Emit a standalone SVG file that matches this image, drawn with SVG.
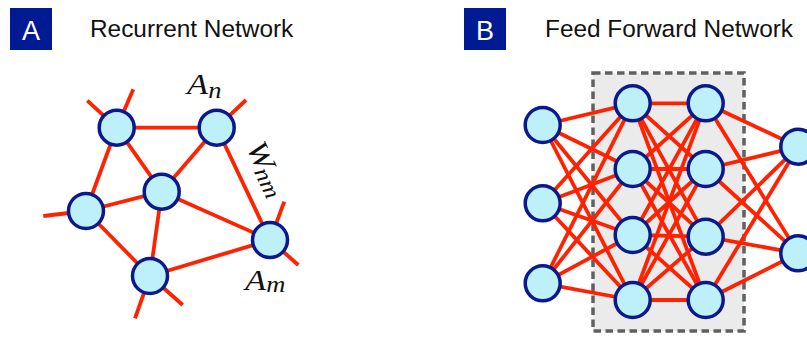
<svg xmlns="http://www.w3.org/2000/svg" width="807" height="337" viewBox="0 0 807 337">
<style>
.lbl{fill:#001a94}
.lt{font-family:"Liberation Sans",Arial,sans-serif;font-size:27px;fill:#fff;text-anchor:middle}
.ttl{font-family:"Liberation Sans",Arial,sans-serif;font-size:24.4px;fill:#111}
.math{font-family:"Liberation Serif","Times New Roman",serif;font-style:italic;font-size:30px;fill:#111}
.sub{font-size:23px}
.e{stroke:#ff2200;stroke-width:3.8;fill:none;stroke-linecap:butt}
.n{fill:#bdf0f8;stroke:#0a1a8c;stroke-width:3.5}
</style>
<rect x="0" y="0" width="807" height="337" fill="#fff"/>
<!-- Panel A header -->
<g id="labelA"><rect class="lbl" x="10" y="8" width="42" height="42"/><text class="lt" x="31" y="39.5">A</text></g>
<text class="ttl" x="90" y="37">Recurrent Network</text>
<!-- Panel B header -->
<g id="labelB"><rect class="lbl" x="464" y="8" width="42" height="42"/><text class="lt" x="485" y="39.5">B</text></g>
<text class="ttl" x="545" y="37">Feed Forward Network</text>
<!-- Hidden layer box -->
<rect id="hiddenBox" x="593" y="73" width="151" height="258" fill="#ebebeb" stroke="#606060" stroke-width="3.5" stroke-dasharray="7.5 4.5"/>
<!-- Connectors -->
<g id="connectors">
<g id="recurrent-edges">
<line class="e" x1="116.7" y1="127.7" x2="216.7" y2="127.7"/>
<line class="e" x1="116.7" y1="127.7" x2="161.7" y2="191.7"/>
<line class="e" x1="116.7" y1="127.7" x2="86" y2="211"/>
<line class="e" x1="216.7" y1="127.7" x2="161.7" y2="191.7"/>
<line class="e" x1="216.7" y1="127.7" x2="270" y2="240"/>
<line class="e" x1="161.7" y1="191.7" x2="86" y2="211"/>
<line class="e" x1="161.7" y1="191.7" x2="150" y2="276"/>
<line class="e" x1="161.7" y1="191.7" x2="270" y2="240"/>
<line class="e" x1="86" y1="211" x2="150" y2="276"/>
<line class="e" x1="150" y1="276" x2="270" y2="240"/>
<line class="e" x1="116.7" y1="127.7" x2="87.3" y2="100.7"/>
<line class="e" x1="116.7" y1="127.7" x2="133.3" y2="89.3"/>
<line class="e" x1="216.7" y1="127.7" x2="246" y2="100"/>
<line class="e" x1="86" y1="211" x2="43.3" y2="216"/>
<line class="e" x1="270" y1="240" x2="284.3" y2="201.7"/>
<line class="e" x1="270" y1="240" x2="298.3" y2="265"/>
<line class="e" x1="150" y1="276" x2="135" y2="318.3"/>
<line class="e" x1="150" y1="276" x2="182.7" y2="305"/>
</g>
<g id="ff-edges">
<line class="e" x1="542.7" y1="125" x2="632.7" y2="103.3"/>
<line class="e" x1="542.7" y1="125" x2="632.7" y2="169"/>
<line class="e" x1="542.7" y1="125" x2="632.7" y2="235"/>
<line class="e" x1="542.7" y1="125" x2="632.7" y2="300"/>
<line class="e" x1="542.7" y1="203.3" x2="632.7" y2="103.3"/>
<line class="e" x1="542.7" y1="203.3" x2="632.7" y2="169"/>
<line class="e" x1="542.7" y1="203.3" x2="632.7" y2="235"/>
<line class="e" x1="542.7" y1="203.3" x2="632.7" y2="300"/>
<line class="e" x1="542.7" y1="283.3" x2="632.7" y2="103.3"/>
<line class="e" x1="542.7" y1="283.3" x2="632.7" y2="169"/>
<line class="e" x1="542.7" y1="283.3" x2="632.7" y2="235"/>
<line class="e" x1="542.7" y1="283.3" x2="632.7" y2="300"/>
<line class="e" x1="632.7" y1="103.3" x2="705.7" y2="103.3"/>
<line class="e" x1="632.7" y1="103.3" x2="705.7" y2="169"/>
<line class="e" x1="632.7" y1="103.3" x2="705.7" y2="236.7"/>
<line class="e" x1="632.7" y1="103.3" x2="705.7" y2="300"/>
<line class="e" x1="632.7" y1="169" x2="705.7" y2="103.3"/>
<line class="e" x1="632.7" y1="169" x2="705.7" y2="169"/>
<line class="e" x1="632.7" y1="169" x2="705.7" y2="236.7"/>
<line class="e" x1="632.7" y1="169" x2="705.7" y2="300"/>
<line class="e" x1="632.7" y1="235" x2="705.7" y2="103.3"/>
<line class="e" x1="632.7" y1="235" x2="705.7" y2="169"/>
<line class="e" x1="632.7" y1="235" x2="705.7" y2="236.7"/>
<line class="e" x1="632.7" y1="235" x2="705.7" y2="300"/>
<line class="e" x1="632.7" y1="300" x2="705.7" y2="103.3"/>
<line class="e" x1="632.7" y1="300" x2="705.7" y2="169"/>
<line class="e" x1="632.7" y1="300" x2="705.7" y2="236.7"/>
<line class="e" x1="632.7" y1="300" x2="705.7" y2="300"/>
<line class="e" x1="705.7" y1="103.3" x2="798.3" y2="146.7"/>
<line class="e" x1="705.7" y1="103.3" x2="798.3" y2="253.3"/>
<line class="e" x1="705.7" y1="169" x2="798.3" y2="146.7"/>
<line class="e" x1="705.7" y1="169" x2="798.3" y2="253.3"/>
<line class="e" x1="705.7" y1="236.7" x2="798.3" y2="146.7"/>
<line class="e" x1="705.7" y1="236.7" x2="798.3" y2="253.3"/>
<line class="e" x1="705.7" y1="300" x2="798.3" y2="146.7"/>
<line class="e" x1="705.7" y1="300" x2="798.3" y2="253.3"/>
</g>
</g>
<!-- Recurrent nodes -->
<g id="rA1"><circle class="n" cx="116.7" cy="127.7" r="17.5"/></g>
<g id="rAn"><circle class="n" cx="216.7" cy="127.7" r="17.5"/></g>
<g id="rA3"><circle class="n" cx="161.7" cy="191.7" r="17.5"/></g>
<g id="rA4"><circle class="n" cx="86" cy="211" r="17.5"/></g>
<g id="rA5"><circle class="n" cx="150" cy="276" r="17.5"/></g>
<g id="rAm"><circle class="n" cx="270" cy="240" r="17.5"/></g>
<!-- Feed forward nodes -->
<g id="in1"><circle class="n" cx="542.7" cy="125" r="17.5"/></g>
<g id="in2"><circle class="n" cx="542.7" cy="203.3" r="17.5"/></g>
<g id="in3"><circle class="n" cx="542.7" cy="283.3" r="17.5"/></g>
<g id="h11"><circle class="n" cx="632.7" cy="103.3" r="17.5"/></g>
<g id="h12"><circle class="n" cx="632.7" cy="169" r="17.5"/></g>
<g id="h13"><circle class="n" cx="632.7" cy="235" r="17.5"/></g>
<g id="h14"><circle class="n" cx="632.7" cy="300" r="17.5"/></g>
<g id="h21"><circle class="n" cx="705.7" cy="103.3" r="17.5"/></g>
<g id="h22"><circle class="n" cx="705.7" cy="169" r="17.5"/></g>
<g id="h23"><circle class="n" cx="705.7" cy="236.7" r="17.5"/></g>
<g id="h24"><circle class="n" cx="705.7" cy="300" r="17.5"/></g>
<g id="out1"><circle class="n" cx="798.3" cy="146.7" r="17.5"/></g>
<g id="out2"><circle class="n" cx="798.3" cy="253.3" r="17.5"/></g>
<!-- Math labels -->
<text class="math" transform="translate(187,94.3) scale(1.15,1)">A<tspan class="sub" x="18.5" dy="3.7">n</tspan></text>
<text class="math" transform="translate(245,290) scale(1.15,1)">A<tspan class="sub" x="18.5" dy="2">m</tspan></text>
<text class="math" transform="translate(246,147) rotate(65) scale(1.12,1)">W<tspan class="sub" x="23" dy="3.5">nm</tspan></text>
</svg>
